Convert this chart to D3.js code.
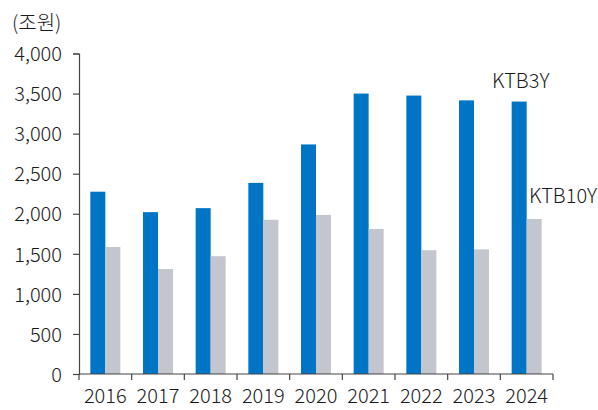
<!DOCTYPE html>
<html>
<head>
<meta charset="utf-8">
<script src="https://cdn.jsdelivr.net/npm/d3@7"></script>
<style>
  html, body { margin: 0; padding: 0; background: #fff; }
  svg text { font-family: "Noto Sans CJK KR", "Noto Sans", sans-serif; font-weight: 300; fill: #1a1a1a; }
</style>
</head>
<body>
<svg id="chart" width="598" height="410"></svg>
<script>
const years = ["2016", "2017", "2018", "2019", "2020", "2021", "2022", "2023", "2024"];
const ktb3y = [2275, 2020, 2070, 2385, 2865, 3500, 3475, 3415, 3400];
const ktb10y = [1585, 1310, 1470, 1925, 1985, 1810, 1545, 1555, 1935];
const yTicks = [0, 500, 1000, 1500, 2000, 2500, 3000, 3500, 4000];
const seriesNames = ["KTB3Y", "KTB10Y"];
const colors = ["#0075C6", "#C3C5CF"];
const unitLabel = "(조원)";

const svg = d3.select("#chart");
const plotLeft = 79, plotRight = 553, plotTop = 53.5, plotBottom = 374;

const x = d3.scaleBand().domain(years).range([plotLeft, plotRight]).paddingInner(0).paddingOuter(0);
const y = d3.scaleLinear().domain([0, 4000]).range([plotBottom, plotTop]);
const inner = d3.scaleBand().domain(seriesNames).range([0, 30]);
const groupOffset = (x.bandwidth() - 30) / 2;

const series = [ktb3y, ktb10y];

// bars
series.forEach((vals, si) => {
  svg.append("g").selectAll("rect")
    .data(years.map((yr, i) => ({ yr, v: vals[i] })))
    .join("rect")
    .attr("x", d => x(d.yr) + groupOffset + inner(seriesNames[si]))
    .attr("width", inner.bandwidth())
    .attr("y", d => y(d.v))
    .attr("height", d => y(0) - y(d.v))
    .attr("fill", colors[si]);
});

// y axis
const yAxis = svg.append("g")
  .attr("transform", `translate(${plotLeft},0)`)
  .call(d3.axisLeft(y).tickValues(yTicks).tickSize(6).tickPadding(11)
    .tickFormat(d3.format(",")));
yAxis.selectAll("text").attr("font-size", 20).attr("dy", "0.36em");
yAxis.select(".domain").attr("stroke", "#444").attr("stroke-width", 1.2);
yAxis.selectAll(".tick line").attr("stroke", "#444").attr("stroke-width", 1.2);

// x axis with ticks on category boundaries
const xAxisG = svg.append("g").attr("transform", `translate(0,${plotBottom})`);
xAxisG.append("line").attr("x1", plotLeft).attr("x2", plotRight).attr("y1", 0).attr("y2", 0)
  .attr("stroke", "#444").attr("stroke-width", 1.2);
const boundaries = years.map(yr => x(yr)).concat([plotRight]);
xAxisG.selectAll("line.tick").data(boundaries).join("line")
  .attr("class", "tick")
  .attr("x1", d => d).attr("x2", d => d).attr("y1", 0).attr("y2", 6)
  .attr("stroke", "#444").attr("stroke-width", 1.2);
xAxisG.selectAll("text").data(years).join("text")
  .attr("x", d => x(d) + x.bandwidth() / 2)
  .attr("y", 29)
  .attr("text-anchor", "middle")
  .attr("font-size", 20)
  .text(d => d);

// unit label
svg.append("text").attr("x", 12).attr("y", 30).attr("font-size", 20).text(unitLabel);

// series labels
svg.append("text").attr("x", 492).attr("y", 88).attr("font-size", 20).text(seriesNames[0]);
svg.append("text").attr("x", 529).attr("y", 203).attr("font-size", 20).text(seriesNames[1]);
</script>
</body>
</html>
